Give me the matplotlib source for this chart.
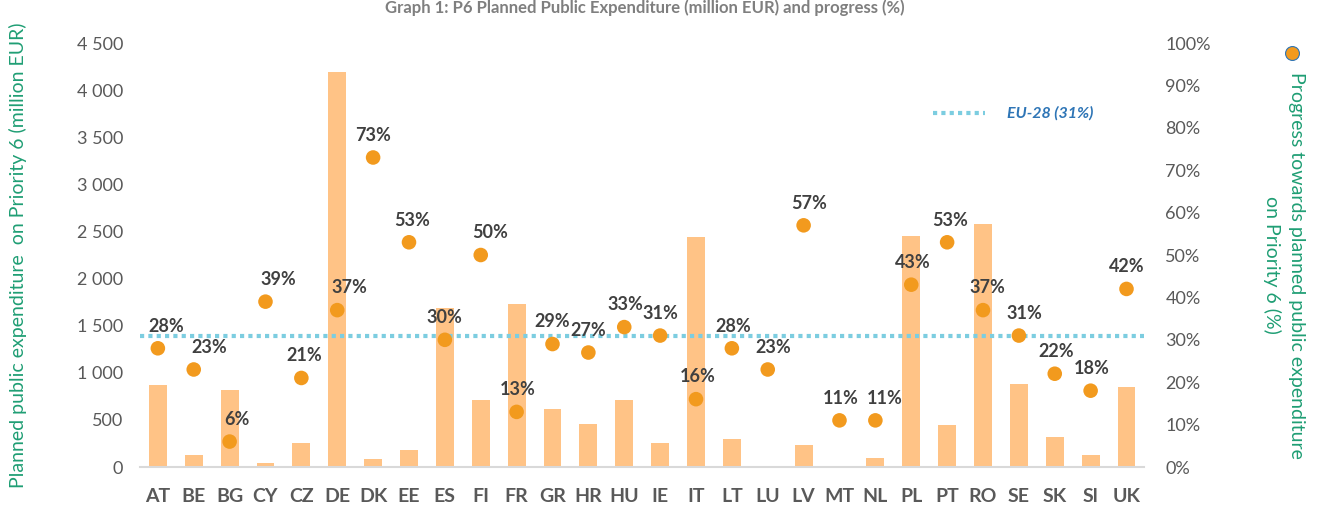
import matplotlib.pyplot as plt
import numpy as np

plt.rcParams['font.family'] = ['Lato', 'DejaVu Sans']

countries = ['AT', 'BE', 'BG', 'CY', 'CZ', 'DE', 'DK', 'EE', 'ES', 'FI', 'FR', 'GR', 'HR', 'HU',
             'IE', 'IT', 'LT', 'LU', 'LV', 'MT', 'NL', 'PL', 'PT', 'RO', 'SE', 'SK', 'SI', 'UK']
tick_labels = ['AT', 'BE', 'BG', 'CY', 'CZ', 'DE', 'DK', 'EE', 'ES', 'FI', 'FR', 'GR', 'HR', 'HU',
               'IE', 'IT', 'LT', 'LU', 'LV', 'MT', 'NL', 'PL', 'PT', 'RO', 'SE', 'SK', 'Sl', 'UK']
planned = [870, 130, 815, 45, 255, 4190, 80, 185, 1685, 715, 1730, 620, 460, 710,
           250, 2440, 295, 12, 235, 10, 100, 2450, 450, 2580, 885, 320, 125, 845]
progress = [28, 23, 6, 39, 21, 37, 73, 53, 30, 50, 13, 29, 27, 33,
            31, 16, 28, 23, 57, 11, 11, 43, 53, 37, 31, 22, 18, 42]
eu_avg = 31

bar_col = '#ffc386'
dot_col = '#f29a1e'
green = '#1f9e74'
grey = '#595959'

fig = plt.figure(figsize=(13.2, 5.09), dpi=100)
ax = fig.add_axes([0.106, 0.0825, 0.761, 0.833])
x = np.arange(len(countries))
ax.bar(x, planned, width=0.5, color=bar_col, zorder=1)
ax.set_xlim(-0.5, len(countries) - 0.5)
ax.set_ylim(0, 4500)
ax.set_yticks(np.arange(0, 4501, 500))
ax.set_yticklabels([f'{v:,}'.replace(',', ' ') for v in range(0, 4501, 500)])
ax.set_xticks(x)
ax.set_xticklabels(tick_labels, fontsize=14, fontweight='bold', color=grey)
ax.tick_params(axis='x', length=0, pad=15)
ax.tick_params(axis='y', length=0, pad=12, labelsize=13, labelcolor=grey)
for s in ['top', 'left', 'right']:
    ax.spines[s].set_visible(False)
ax.spines['bottom'].set_color('#d9d9d9')
ax.spines['bottom'].set_linewidth(1.5)
ax.set_ylabel('Planned public expenditure  on Priority 6 (million EUR)', color=green,
              fontsize=14)
ax.yaxis.set_label_coords(-0.112, 0.5)

ax2 = ax.twinx()
ax2.set_ylim(0, 100)
ax2.set_yticks(np.arange(0, 101, 10))
ax2.set_yticklabels([f'{v}%' for v in range(0, 101, 10)])
ax2.tick_params(axis='y', length=0, pad=15, labelsize=13, labelcolor=grey)
for s in ['top', 'left', 'right', 'bottom']:
    ax2.spines[s].set_visible(False)

ax2.axhline(eu_avg, color='#7ccde0', lw=3, ls=(0, (1, 1)), zorder=2)
ax2.scatter(x, progress, s=110, color=dot_col, zorder=3, edgecolors='none')

label_dx = [6, 11, 5, 9, 2, 9, 0, 2, 0, 7, 1, 0, 0, 1,
            0, 1, 1, 4, 4, 1, 7, 1, 2, 3, 4, 1, 1, 0]
for xi, p, dx in zip(x, progress, label_dx):
    ax2.annotate(f'{p}%', (xi, p), xytext=(dx, 16), textcoords='offset points',
                 ha='center', va='center', fontsize=13, fontweight='bold',
                 color='#404040', zorder=4)

# legend entry for the EU average
fig.lines.append(plt.Line2D([933 / 1320, 985 / 1320], [1 - 113 / 509, 1 - 113 / 509],
                            transform=fig.transFigure, color='#7ccde0', lw=3, ls=(0, (1, 1))))
fig.text(1007 / 1320, 1 - 113 / 509, 'EU-28 (31%)', color='#2e75b6', fontsize=11.5,
         fontweight='bold', style='italic', va='center', ha='left')

# secondary axis title with its marker
fig.text(1297 / 1320, 1 - 265 / 509, 'Progress towards planned public expenditure',
         rotation=270, color=green, fontsize=14, ha='center', va='center')
fig.text(1272 / 1320, 1 - 265 / 509, 'on Priority 6 (%)',
         rotation=270, color=green, fontsize=14, ha='center', va='center')
fig.lines.append(plt.Line2D([1292 / 1320], [1 - 53 / 509], transform=fig.transFigure,
                            marker='o', ms=10, color=dot_col, mec='#2e75b6', mew=0.8, ls='none'))

fig.text(645 / 1320, 1 - 8 / 509, 'Graph 1: P6 Planned Public Expenditure (million EUR) and progress (%)',
         ha='center', va='center', fontsize=12, fontweight='bold', color='#7f7f7f')

fig.savefig('out.png', dpi=100)
